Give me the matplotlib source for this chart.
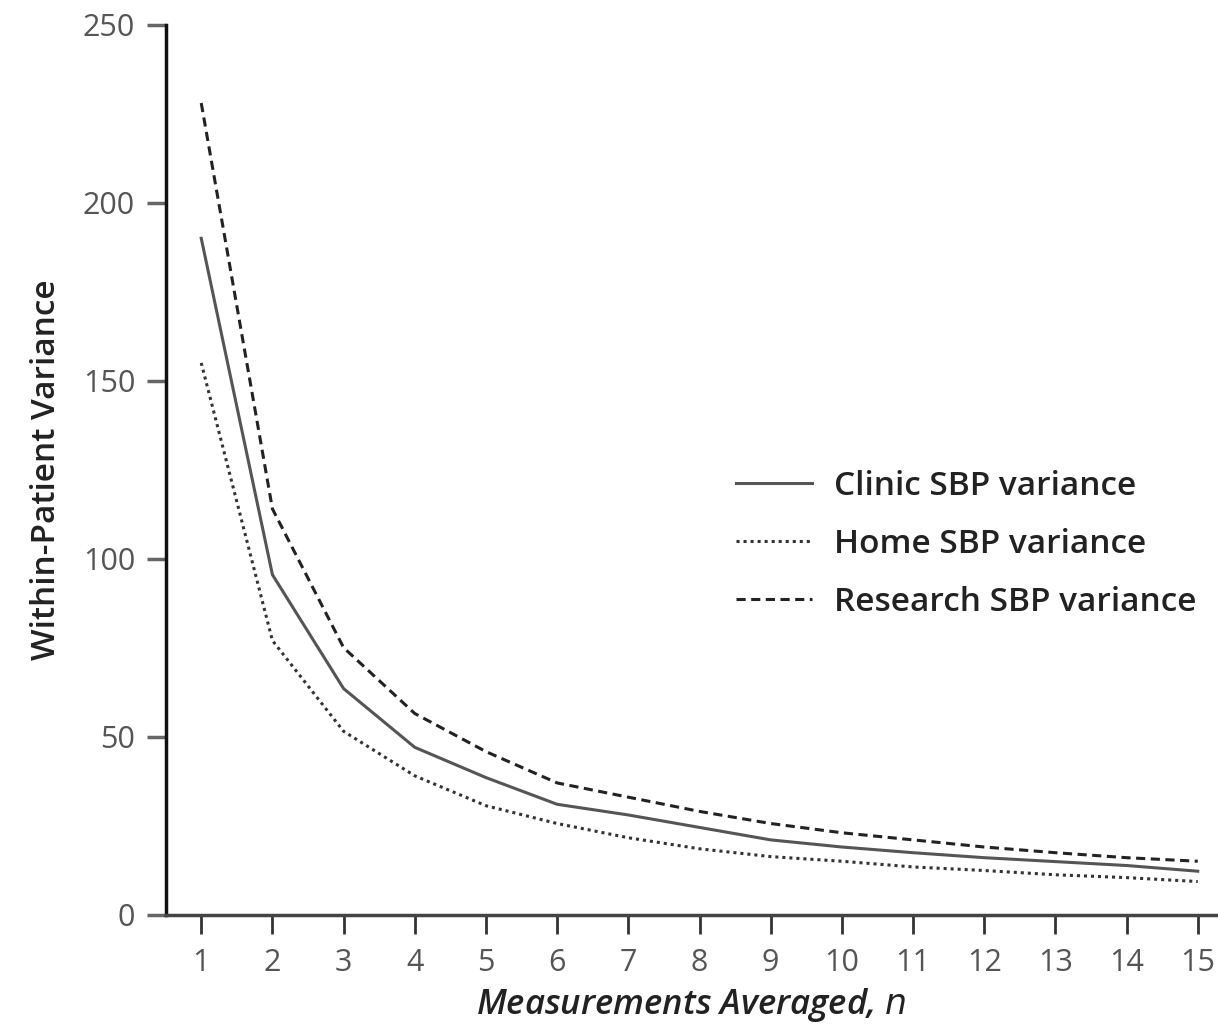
import matplotlib.pyplot as plt

# within-patient variance vs number of measurements averaged
n = list(range(1, 16))
clinic = [190, 95.5, 63.5, 47, 38.5, 31, 28, 24.5, 21, 19, 17.4, 16, 14.9, 13.8, 12.2]
home = [155, 77, 51.5, 39, 30.6, 25.6, 21.6, 18.5, 16.3, 15, 13.4, 12.4, 11.2, 10.4, 9.3]
research = [228, 114, 75, 56.5, 45.8, 37, 33, 29, 25.6, 23, 21, 19, 17.4, 16, 15]

plt.rcParams['font.family'] = ['Open Sans', 'DejaVu Sans']

fig = plt.figure(figsize=(12.18, 10.3), dpi=100)
ax = fig.add_axes([0.136, 0.112, 0.862, 0.864])

ax.plot(n, clinic, color='#555555', lw=2.2, ls='-', label='Clinic SBP variance')
ax.plot(n, home, color='#333333', lw=2.2, ls=(0, (1, 1.3)), label='Home SBP variance')
ax.plot(n, research, color='#222222', lw=2.2, ls=(0, (3, 1.8)), label='Research SBP variance')

ax.set_xlim(0.5, 15.25)
ax.set_ylim(0, 250)
ax.set_xticks(n)
ax.set_yticks([0, 50, 100, 150, 200, 250])

for s in ['top', 'right']:
    ax.spines[s].set_visible(False)
ax.spines['left'].set_linewidth(2.5)
ax.spines['bottom'].set_linewidth(2.5)
ax.spines['left'].set_color('#111111')
ax.spines['bottom'].set_color('#444444')

ax.tick_params(axis='y', length=14, width=2.5, color='#666666', labelsize=22,
               labelcolor='#555555', pad=8)
ax.tick_params(axis='x', length=14, width=2, color='#333333', labelsize=22,
               labelcolor='#555555', pad=10)

ax.set_ylabel('Within-Patient Variance', fontsize=24, color='#222222',
              fontweight='semibold', labelpad=14)
ax.set_xlabel('Measurements Averaged, $\\mathit{n}$', fontsize=25, color='#222222',
              style='italic', fontweight='semibold', labelpad=6)

leg = ax.legend(loc='upper left', bbox_to_anchor=(0.543, 0.5), frameon=False,
                borderaxespad=0, borderpad=0,
                prop={'size': 24, 'weight': 'semibold'},
                handlelength=2.3, handletextpad=0.65, labelspacing=0.75)
for t in leg.get_texts():
    t.set_color('#222222')

plt.savefig('out.png', dpi=100)
